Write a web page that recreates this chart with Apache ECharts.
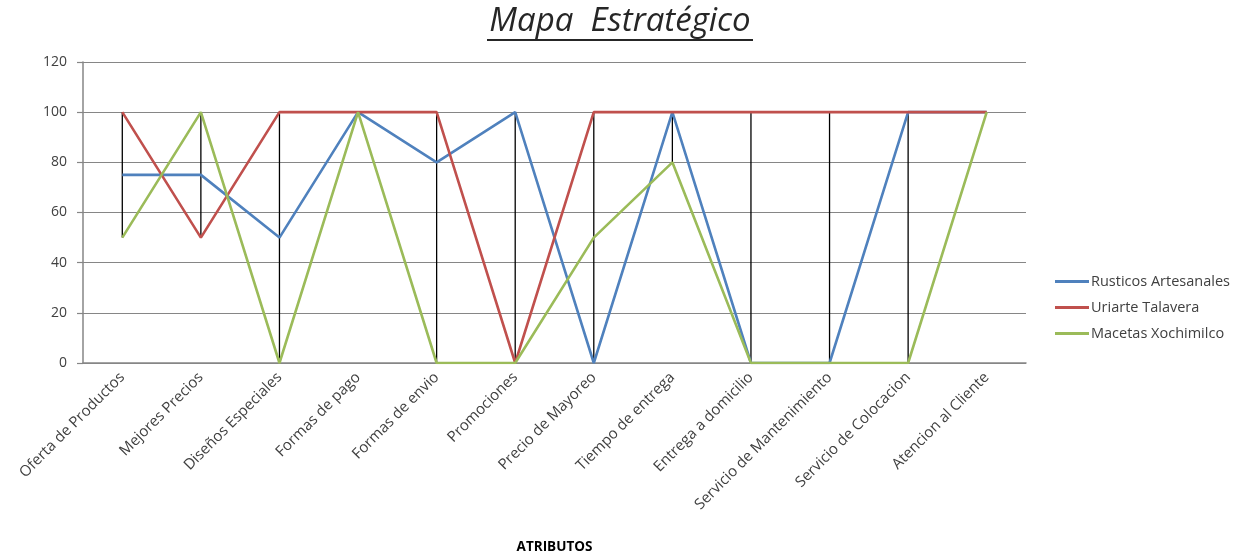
<!DOCTYPE html>
<html>
<head>
<meta charset="utf-8">
<style>
  html, body { margin: 0; padding: 0; background: #fff; }
  #chart { width: 1240px; height: 554px; }
</style>
<script src="https://cdn.jsdelivr.net/npm/echarts@6/dist/echarts.min.js"></script>
</head>
<body>
<div id="chart"></div>
<script>
const categories = ['Oferta de Productos', 'Mejores Precios', 'Diseños Especiales', 'Formas de pago', 'Formas de envio', 'Promociones', 'Precio de Mayoreo', 'Tiempo de entrega', 'Entrega a domicilio', 'Servicio de Mantenimiento', 'Servicio de Colocacion', 'Atencion al Cliente'];
const rusticos = [75, 75, 50, 100, 80, 100, 0, 100, 0, 0, 100, 100];
const uriarte = [100, 50, 100, 100, 100, 0, 100, 100, 100, 100, 100, 100];
const macetas = [50, 100, 0, 100, 0, 0, 50, 80, 0, 0, 0, 100];
const yTicks = { min: 0, max: 120, interval: 20 };

const hiLow = categories.map((c, i) => {
  const vals = [rusticos[i], uriarte[i], macetas[i]];
  return [i, Math.min(...vals), Math.max(...vals)];
});

const FONT = '"Open Sans", "Noto Sans", sans-serif';
const chart = echarts.init(document.getElementById('chart'), null, { renderer: 'canvas' });

chart.setOption({
  animation: false,
  backgroundColor: '#fff',
  title: {
    text: 'Mapa  Estratégico',
    left: 'center',
    top: 0,
    textStyle: { fontFamily: FONT, fontStyle: 'italic', fontWeight: 'normal', fontSize: 33, color: '#262626' }
  },
  graphic: [{
    type: 'rect',
    left: 'center',
    top: 39,
    shape: { width: 266, height: 2 },
    style: { fill: '#262626' }
  }],
  legend: {
    orient: 'vertical',
    left: 1050,
    top: 269,
    itemGap: 11,
    itemWidth: 34,
    itemHeight: 3,
    icon: 'rect',
    textStyle: { fontFamily: FONT, fontSize: 14.5, color: '#404040', padding: [0, 0, 0, -3] },
    data: ['Rusticos Artesanales', 'Uriarte Talavera', 'Macetas Xochimilco']
  },
  grid: { left: 83, right: 214, top: 62, bottom: 191, containLabel: false, outerBoundsMode: 'none' },
  xAxis: {
    type: 'category',
    data: categories,
    boundaryGap: true,
    name: 'ATRIBUTOS',
    nameLocation: 'middle',
    nameGap: 177,
    nameTextStyle: { fontFamily: FONT, fontWeight: 'bold', fontSize: 13.5, color: '#000' },
    axisLine: { lineStyle: { color: '#868686', width: 1.5 } },
    axisTick: { show: false },
    axisLabel: { rotate: 45, interval: 0, margin: 12, fontFamily: FONT, fontSize: 15, color: '#404040' },
    splitLine: { show: false }
  },
  yAxis: {
    type: 'value',
    min: yTicks.min,
    max: yTicks.max,
    interval: yTicks.interval,
    axisLine: { show: true, lineStyle: { color: '#868686', width: 1.5 } },
    axisTick: { show: true, length: 6, lineStyle: { color: '#868686', width: 1.2 } },
    axisLabel: { fontFamily: FONT, fontSize: 14, color: '#404040', margin: 16 },
    splitLine: { lineStyle: { color: '#868686', width: 1.2 } }
  },
  series: [
    {
      type: 'custom',
      name: 'hilo',
      z: 1,
      data: hiLow,
      encode: { x: 0, y: [1, 2] },
      renderItem: function (params, api) {
        const x = api.value(0);
        const p1 = api.coord([x, api.value(1)]);
        const p2 = api.coord([x, api.value(2)]);
        return {
          type: 'line',
          shape: { x1: p1[0], y1: p1[1], x2: p2[0], y2: p2[1] },
          style: { stroke: '#000', lineWidth: 1.3 }
        };
      },
      silent: true
    },
    { name: 'Rusticos Artesanales', type: 'line', data: rusticos, symbol: 'none', z: 2, lineStyle: { color: '#4F81BD', width: 2.6 }, itemStyle: { color: '#4F81BD' } },
    { name: 'Uriarte Talavera', type: 'line', data: uriarte, symbol: 'none', z: 3, lineStyle: { color: '#C0504D', width: 2.6 }, itemStyle: { color: '#C0504D' } },
    { name: 'Macetas Xochimilco', type: 'line', data: macetas, symbol: 'none', z: 4, lineStyle: { color: '#9BBB59', width: 2.6 }, itemStyle: { color: '#9BBB59' } }
  ]
});
</script>
</body>
</html>
